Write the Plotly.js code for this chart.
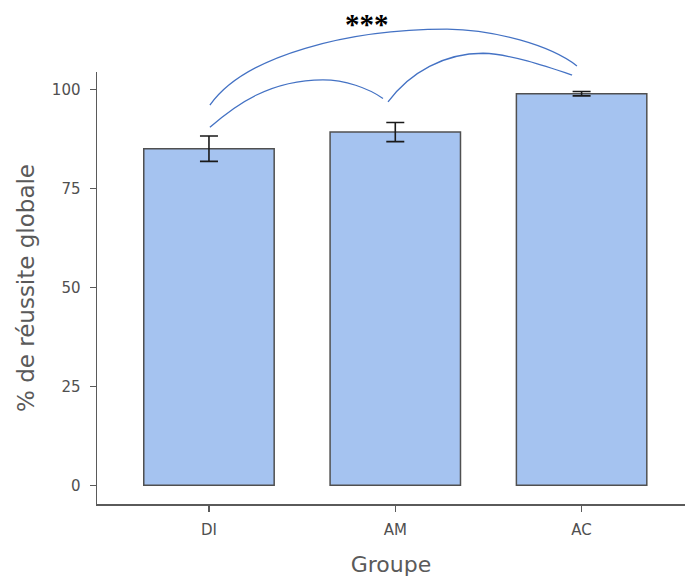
<!DOCTYPE html>
<html>
<head>
<meta charset="utf-8">
<script src="https://cdn.plot.ly/plotly-3.0.1.min.js"></script>
<style>html,body{margin:0;padding:0;background:#fff;}#chart{width:685px;height:579px;}</style>
</head>
<body>
<div id="chart"></div>
<script>
// ---- data ----
var groups = ["DI", "AM", "AC"];
var meanScores = [85.0, 89.2, 98.9];
var errScores = [3.2, 2.4, 0.55];
var yTickVals = [0, 25, 50, 75, 100];
var yTickText = ["0", "25", "50", "75", "100"];
var sigLabel = "***";

// significance arcs: [x (category index), y (% units)] points of cubic Bezier paths
var arcDIAM = [[0.005, 90.4], [0.140, 96.0], [0.327, 102.4], [0.612, 102.4], [0.730, 102.4], [0.854, 100.3], [0.934, 97.7]];
var arcAMAC = [[0.961, 96.8], [1.079, 104.4], [1.267, 109.1], [1.471, 109.1], [1.616, 108.9], [1.804, 105.9], [1.949, 103.6]];
var arcDIAC = [[0.005, 96.0], [0.193, 108.7], [0.757, 115.2], [1.278, 115.2], [1.535, 115.0], [1.830, 111.2], [1.975, 105.9]];
var sigPos = [0.85, 116.6];

var yRange = [-4.72, 104.37];
var xRange = [-0.601, 2.555];

function toPaperY(v) { return (v - yRange[0]) / (yRange[1] - yRange[0]); }
function arcPath(pts) {
  var p = pts.map(function (q) { return q[0] + ',' + toPaperY(q[1]); });
  return 'M' + p[0] + ' C' + p[1] + ' ' + p[2] + ' ' + p[3] + ' C' + p[4] + ' ' + p[5] + ' ' + p[6];
}

var trace = {
  type: 'bar',
  x: groups,
  y: meanScores,
  marker: { color: '#a5c3f0', line: { color: '#505050', width: 1.5 } },
  error_y: { type: 'data', array: errScores, visible: true, color: '#1a1a1a', thickness: 1.6, width: 9 },
  hoverinfo: 'none'
};

var fam = 'DejaVu Sans, Verdana, sans-serif';
var axisFont = { family: fam, size: 15, color: '#505050' };

var layout = {
  width: 685,
  height: 579,
  margin: { l: 97, r: 0, t: 72, b: 75 },
  paper_bgcolor: '#fff',
  plot_bgcolor: '#fff',
  showlegend: false,
  bargap: 0.3,
  xaxis: {
    type: 'category',
    range: xRange,
    showline: true, linecolor: '#5a5a5a', linewidth: 1.5,
    ticks: 'outside', ticklen: 6, tickwidth: 1.5, tickcolor: '#5a5a5a',
    ticklabelstandoff: 5,
    showgrid: false, zeroline: false,
    tickfont: axisFont,
    title: { text: 'Groupe', font: { family: fam, size: 22, color: '#5a5a5a' }, standoff: 19 },
    fixedrange: true
  },
  yaxis: {
    range: yRange,
    tickvals: yTickVals, ticktext: yTickText,
    showline: true, linecolor: '#5a5a5a', linewidth: 1.5,
    ticks: 'outside', ticklen: 6, tickwidth: 1.5, tickcolor: '#5a5a5a',
    ticklabelstandoff: 6,
    showgrid: false, zeroline: false,
    tickfont: axisFont,
    title: { text: '% de réussite globale', font: { family: fam, size: 23, color: '#5a5a5a' }, standoff: 11 },
    fixedrange: true
  },
  shapes: [arcDIAM, arcAMAC, arcDIAC].map(function (a) {
    return { type: 'path', xref: 'x', yref: 'paper', path: arcPath(a), line: { color: '#4472c4', width: 1.3 } };
  }),
  annotations: [{
    xref: 'x', yref: 'paper', x: sigPos[0], y: toPaperY(sigPos[1]),
    text: '<b>' + sigLabel + '</b>', showarrow: false, xanchor: 'center', yanchor: 'middle',
    font: { family: 'Liberation Serif, serif', size: 29, color: '#000' }
  }]
};

Plotly.newPlot('chart', [trace], layout, { displayModeBar: false, staticPlot: true });
</script>
</body>
</html>
